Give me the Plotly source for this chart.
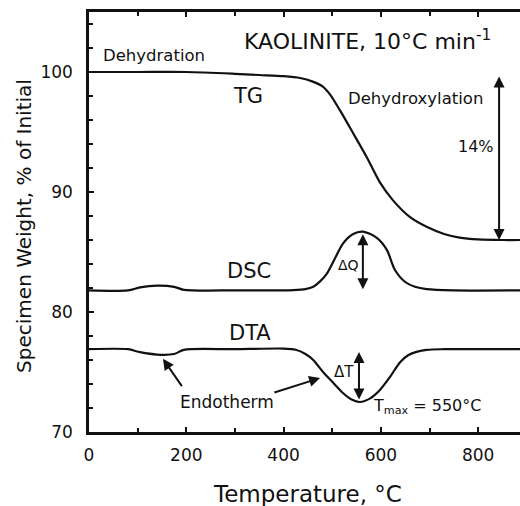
import plotly.graph_objects as go

# ---- data ----
T_tg = [0, 100, 200, 300, 350, 400, 434, 460, 480, 496, 516, 543, 571, 598, 625, 660, 694, 730, 762, 800, 850, 886]
tg   = [100, 100, 100, 99.85, 99.75, 99.65, 99.5, 99.2, 98.8, 98.1, 96.8, 94.9, 92.9, 90.8, 89.3, 87.9, 87.1, 86.5, 86.2, 86.05, 86.0, 86.0]

T_dsc = [0, 80, 105, 140, 175, 195, 300, 420, 445, 461, 475, 489, 506, 522, 543, 563, 591, 612, 629, 650, 670, 694, 750, 886]
dsc   = [81.8, 81.8, 82.05, 82.2, 82.1, 81.85, 81.8, 81.82, 81.9, 82.1, 82.55, 83.2, 84.5, 85.7, 86.5, 86.7, 86.2, 85.2, 83.5, 82.5, 82.1, 81.9, 81.8, 81.8]

T_dta = [0, 80, 105, 140, 175, 195, 300, 400, 425, 445, 461, 481, 502, 522, 540, 557, 578, 598, 619, 639, 656, 675, 694, 730, 886]
dta   = [76.9, 76.9, 76.65, 76.45, 76.5, 76.85, 76.9, 76.95, 76.85, 76.5, 76.0, 75.0, 74.1, 73.25, 72.7, 72.5, 72.8, 73.5, 74.6, 75.8, 76.4, 76.7, 76.85, 76.9, 76.9]

x_ticks = [0, 200, 400, 600, 800]
y_ticks = [70, 80, 90, 100]

FONT = "DejaVu Sans"
INK = "#111111"

fig = go.Figure()
for xs, ys in [(T_tg, tg), (T_dsc, dsc), (T_dta, dta)]:
    fig.add_trace(go.Scatter(x=xs, y=ys, mode="lines",
                             line=dict(color=INK, width=2.2, shape="spline", smoothing=0.8),
                             showlegend=False, hoverinfo="skip"))

def txt(x, y, s, size, xanchor="left", yanchor="middle", ref="data", angle=0):
    d = dict(x=x, y=y, text=s, showarrow=False, xanchor=xanchor, yanchor=yanchor,
             font=dict(family=FONT, size=size, color=INK), textangle=angle)
    if ref == "paper":
        d.update(xref="paper", yref="paper")
    else:
        d.update(xref="x", yref="y")
    fig.add_annotation(**d)

def arrow(x0, y0, x1, y1, both=False):
    fig.add_annotation(x=x1, y=y1, ax=x0, ay=y0, xref="x", yref="y", axref="x", ayref="y",
                       text="", showarrow=True, arrowhead=2, arrowsize=1.1, arrowwidth=2,
                       arrowcolor=INK, arrowside="end+start" if both else "end",
                       standoff=0, startstandoff=0)

# texts
txt(0.355, 0.933, "KAOLINITE, 10°C min<sup>-1</sup>", 22, ref="paper")
txt(25, 101.4, "Dehydration", 16.5)
txt(327, 98.0, "TG", 21, xanchor="center")
txt(528, 97.8, "Dehydroxylation", 16.5)
txt(755, 93.8, "14%", 16)
txt(329, 83.4, "DSC", 21, xanchor="center")
txt(331, 78.25, "DTA", 21, xanchor="center")
txt(508, 83.9, "ΔQ", 14)
txt(500, 75.0, "ΔT", 15)
txt(182, 72.5, "Endotherm", 17)
txt(579, 72.15, "T<sub>max</sub> = 550°C", 16)

# axis titles
txt(0.508, -0.1476, "Temperature, °C", 23, xanchor="center", ref="paper")
txt(-0.151, 0.4905, "Specimen Weight, % of Initial", 20, xanchor="center", ref="paper", angle=-90)

# arrows
arrow(843, 99.75, 843, 86.0, both=True)
arrow(563, 86.6, 563, 81.9, both=True)
arrow(555, 76.8, 555, 72.7, both=True)
arrow(193, 73.7, 152, 76.1)
arrow(378, 73.25, 475, 74.5)

fig.update_layout(
    width=520, height=506,
    margin=dict(l=89, r=0, t=12, b=74),
    paper_bgcolor="white", plot_bgcolor="white",
    font=dict(family=FONT, color=INK),
)
fig.update_xaxes(range=[0, 886], tickvals=x_ticks, ticktext=[str(v) for v in x_ticks],
                 ticks="inside", ticklen=5, tickwidth=1.5, tickcolor=INK,
                 showline=True, linecolor=INK, linewidth=2.5, mirror="ticks",
                 showgrid=False, zeroline=False,
                 tickfont=dict(family=FONT, size=17, color=INK), ticklabelstandoff=6,
                 minor=dict(dtick=100, tick0=0, ticks="inside", ticklen=4, tickcolor=INK, tickwidth=1.5))
fig.update_yaxes(range=[70, 105], tickvals=y_ticks, ticktext=[str(v) for v in y_ticks],
                 ticks="inside", ticklen=5, tickwidth=1.5, tickcolor=INK,
                 showline=True, linecolor=INK, linewidth=2.5, mirror=False,
                 showgrid=False, zeroline=False,
                 tickfont=dict(family=FONT, size=17, color=INK), ticklabelstandoff=10,
                 minor=dict(dtick=2, tick0=70, ticks="inside", ticklen=4, tickcolor=INK, tickwidth=1.5))

fig.write_html("out.html")
